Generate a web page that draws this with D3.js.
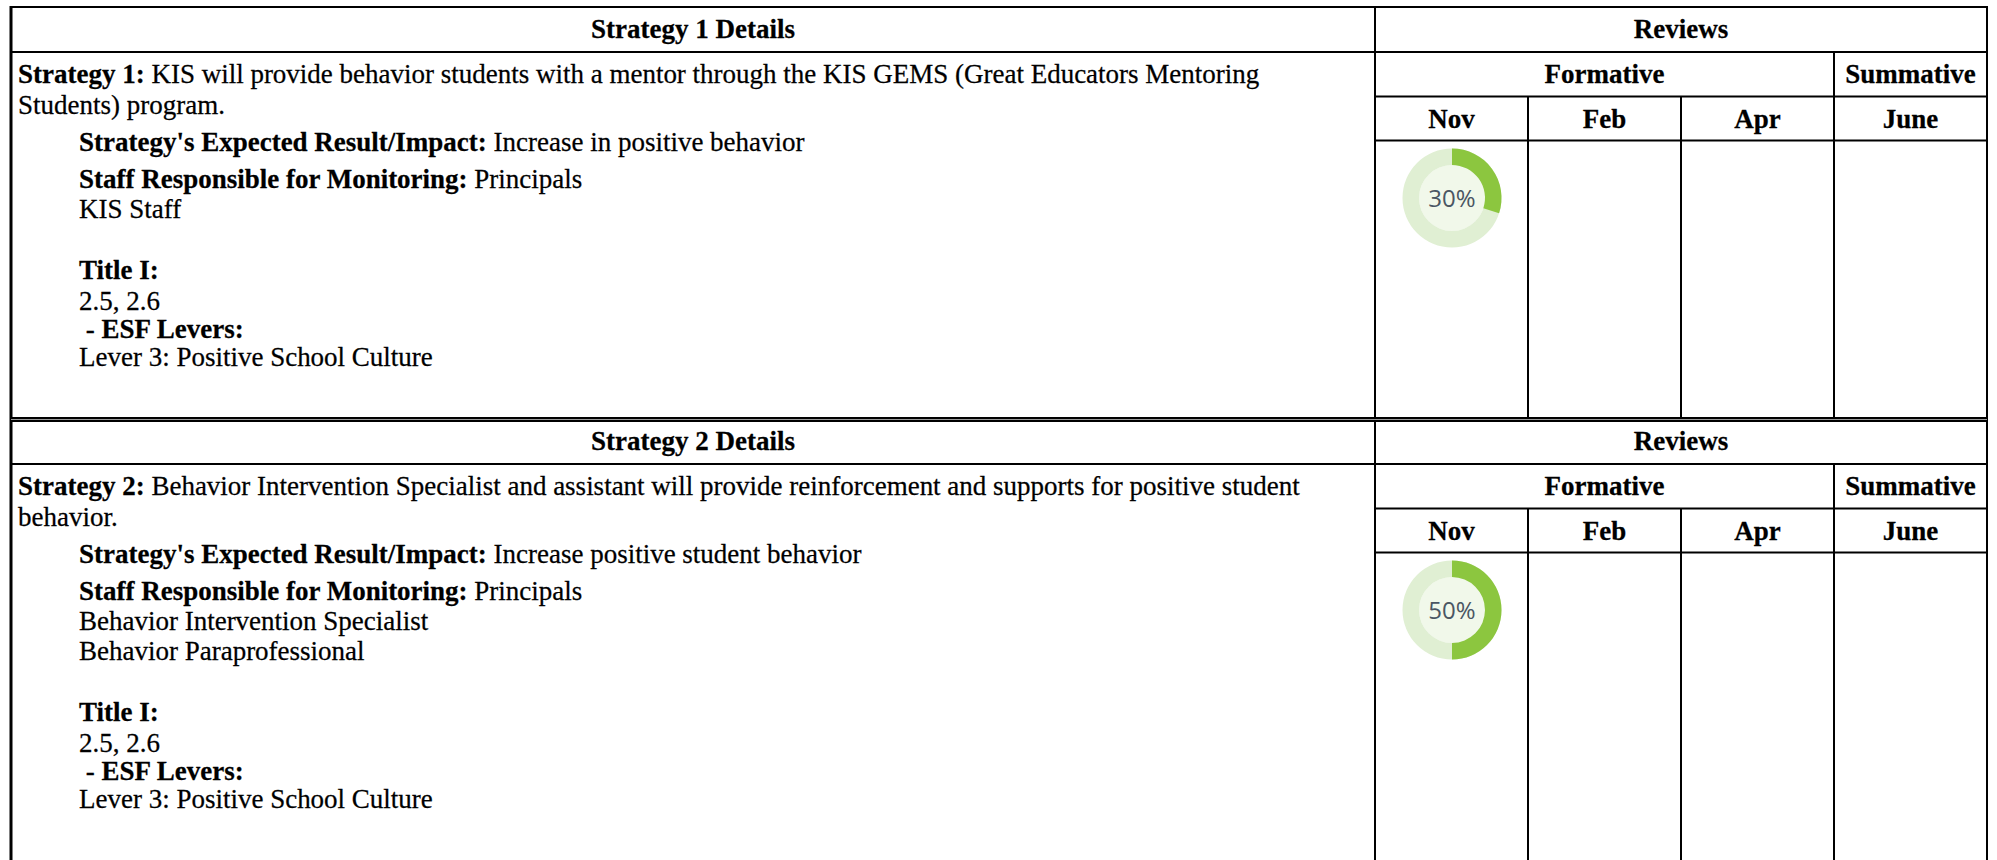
<!DOCTYPE html>
<html>
<head>
<meta charset="utf-8">
<script src="https://cdn.jsdelivr.net/npm/d3@7"></script>
<style>
  html, body { margin: 0; padding: 0; background: #fff; }
  svg { display: block; }
</style>
</head>
<body>
<svg id="chart" width="1997" height="860"></svg>
<script>
// ---------------- data ----------------
const strategyNames = ["Strategy 1", "Strategy 2"];
const strategyTexts = [
  "KIS will provide behavior students with a mentor through the KIS GEMS (Great Educators Mentoring Students) program.",
  "Behavior Intervention Specialist and assistant will provide reinforcement and supports for positive student behavior."
];
const expectedResults = ["Increase in positive behavior", "Increase positive student behavior"];
const staffResponsible = [
  ["Principals", "KIS Staff"],
  ["Principals", "Behavior Intervention Specialist", "Behavior Paraprofessional"]
];
const titleI = ["2.5, 2.6", "2.5, 2.6"];
const esfLevers = ["Lever 3: Positive School Culture", "Lever 3: Positive School Culture"];
const reviewGroups = ["Formative", "Summative"];
const months = ["Nov", "Feb", "Apr", "June"];
const monthGroup = ["Formative", "Formative", "Formative", "Summative"];
const reviewValues = [
  [30, null, null, null],
  [50, null, null, null]
];

// ---------------- layout ----------------
const svg = d3.select("#chart");
const X0 = 11, XS = 1375, XR = 1987;
const sectionTops = [7, 419];
const serif = "'Liberation Serif', 'Times New Roman', serif";
const FS = 27;
const STRETCH = 1.05;

const x = d3.scaleBand().domain(months).range([XS, XR]);
const pct = d3.scaleLinear().domain([0, 100]).range([0, 2 * Math.PI]);
const arcOuter = 49.5, arcInner = 33;

function hline(y, x1, x2, w) {
  svg.append("line").attr("x1", x1).attr("x2", x2).attr("y1", y).attr("y2", y)
    .attr("stroke", "#000").attr("stroke-width", w || 2);
}
function vline(xx, y1, y2, w) {
  svg.append("line").attr("x1", xx).attr("x2", xx).attr("y1", y1).attr("y2", y2)
    .attr("stroke", "#000").attr("stroke-width", w || 2);
}
function text(xx, y, parts, anchor) {
  const t = svg.append("text")
    .attr("transform", `translate(${xx},${y}) scale(1,${STRETCH})`)
    .attr("font-family", serif).attr("font-size", FS).attr("fill", "#000")
    .attr("stroke", "#000").attr("stroke-width", 0.25)
    .attr("text-anchor", anchor || "start");
  parts.forEach(p => t.append("tspan").attr("font-weight", p[1] ? "bold" : "normal").text(p[0]));
  return t;
}

// wrap label + text into lines within maxWidth
function wrapLines(label, body, maxWidth) {
  const words = body.split(" ");
  const lines = [];
  let cur = [];
  const probe = svg.append("text").attr("font-family", serif).attr("font-size", FS).attr("visibility", "hidden");
  function width(lbl, ws) {
    probe.selectAll("*").remove();
    if (lbl) probe.append("tspan").attr("font-weight", "bold").text(lbl);
    probe.append("tspan").text((lbl ? " " : "") + ws.join(" "));
    return probe.node().getComputedTextLength();
  }
  let first = true;
  words.forEach(w => {
    const trial = cur.concat([w]);
    if (width(first ? label : null, trial) > maxWidth && cur.length) {
      lines.push({ label: first ? label : null, words: cur });
      first = false;
      cur = [w];
    } else cur = trial;
  });
  lines.push({ label: first ? label : null, words: cur });
  probe.remove();
  return lines;
}

strategyNames.forEach((name, i) => {
  const t = sectionTops[i];
  const hy = t + 45;          // header bottom
  const fy = t + 89.5;        // formative row bottom
  const my = t + 133.5;       // month row bottom
  const bottom = i < sectionTops.length - 1 ? sectionTops[i + 1] : 870;

  // header texts
  text((X0 + XS) / 2, t + 31, [[name + " Details", true]], "middle");
  text((XS + XR) / 2, t + 31, [["Reviews", true]], "middle");
  reviewGroups.forEach(g => {
    const cols = months.filter((m, k) => monthGroup[k] === g);
    const gx1 = x(cols[0]), gx2 = x(cols[cols.length - 1]) + x.bandwidth();
    text((gx1 + gx2) / 2, t + 76, [[g, true]], "middle");
  });
  months.forEach(m => text(x(m) + x.bandwidth() / 2, t + 120.5, [[m, true]], "middle"));

  // strategy body
  const lines = wrapLines(name + ":", strategyTexts[i], 1345);
  lines.forEach((ln, k) => {
    const parts = [];
    if (ln.label) { parts.push([ln.label, true]); parts.push([" " + ln.words.join(" "), false]); }
    else parts.push([ln.words.join(" "), false]);
    text(18, hy + 31 + k * 30.5, parts);
  });
  const IND = 79;
  let y = hy + 31 + (lines.length - 1) * 30.5 + 37;
  text(IND, y, [["Strategy's Expected Result/Impact:", true], [" " + expectedResults[i], false]]);
  y += 37;
  staffResponsible[i].forEach((s, k) => {
    if (k === 0) text(IND, y, [["Staff Responsible for Monitoring:", true], [" " + s, false]]);
    else { y += 30; text(IND, y, [[s, false]]); }
  });
  y += 61;
  text(IND, y, [["Title I:", true]]);
  y += 31;
  text(IND, y, [[titleI[i], false]]);
  y += 28;
  text(IND, y, [["\u00a0- ", false], ["ESF Levers:", true]]);
  y += 28;
  text(IND, y, [[esfLevers[i], false]]);

  // grid lines
  hline(hy, X0, XR);
  hline(fy, XS, XR);
  hline(my, XS, XR);
  vline(XS, t, bottom);
  vline(x("June"), hy, bottom);
  vline(x("Feb"), fy, bottom);
  vline(x("Apr"), fy, bottom);

  // donuts
  reviewValues[i].forEach((v, k) => {
    if (v == null) return;
    const cx = x(months[k]) + x.bandwidth() / 2 + 0.5;
    const cy = my + 57.5;
    const g = svg.append("g").attr("transform", `translate(${cx},${cy})`);
    g.append("circle").attr("r", arcInner).attr("fill", "#f1f8ea");
    g.append("path").attr("d", d3.arc().innerRadius(arcInner).outerRadius(arcOuter)
      .startAngle(0).endAngle(2 * Math.PI)()).attr("fill", "#e0efd3");
    g.append("path").attr("d", d3.arc().innerRadius(arcInner).outerRadius(arcOuter)
      .startAngle(0).endAngle(pct(v))()).attr("fill", "#8cc63f");
    g.append("text").attr("text-anchor", "middle").attr("y", 8.5)
      .attr("font-family", "'Open Sans', sans-serif").attr("font-size", 24)
      .attr("fill", "#4a5663").text(v + "%");
  });
});

// outer borders
hline(7, X0, XR);
vline(X0, 6, 870, 3);
vline(XR, 6, 870, 2);
// double separator between strategies
svg.append("rect").attr("x", X0).attr("y", 417).attr("width", XR - X0).attr("height", 5).attr("fill", "#000");
svg.append("rect").attr("x", X0).attr("y", 419).attr("width", XR - X0).attr("height", 1).attr("fill", "#999");
</script>
</body>
</html>
